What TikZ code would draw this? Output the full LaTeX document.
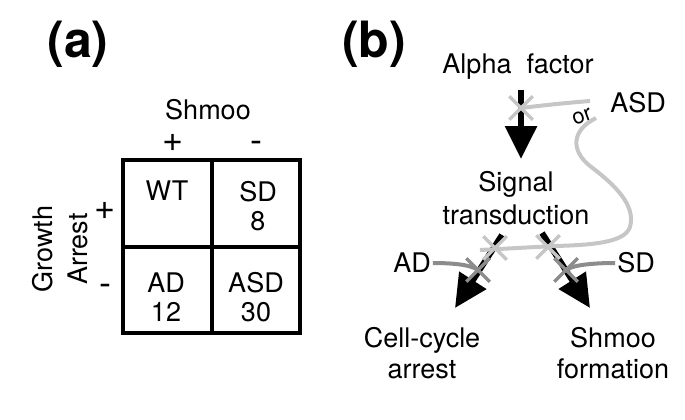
\documentclass[tikz,border=0pt]{standalone}
\usepackage{fontspec}
\setmainfont{TeX Gyre Heros}
\usetikzlibrary{arrows.meta,shapes.misc}
\definecolor{asdgray}{RGB}{198,198,198}
\definecolor{mutgray}{RGB}{140,140,140}

\begin{document}
\begin{tikzpicture}[x=1pt, y=-1pt,
  lbl/.style={font=\fontsize{27}{29}\selectfont, align=center, inner sep=2pt},
  sign/.style={font=\fontsize{36}{38}\selectfont, inner sep=1pt},
  panel/.style={font=\fontsize{50}{52}\selectfont\bfseries, inner sep=0pt},
  arr/.style={line width=6pt, -{Triangle[length=33pt, width=31pt]}},
  grid/.style={line width=3.5pt},
  asdline/.style={line width=4pt, asdgray},
  mutline/.style={line width=4pt, mutgray},
  cut/.style={cross out, line width=3.5pt, minimum size=20pt, inner sep=0pt}
]
\useasboundingbox (0,0) rectangle (685,420);

% (a) phenotype table
\node[panel] (pa) at (78,44) {(a)};
\node[lbl] (shmoo) at (208,110) {Shmoo};
\node[sign] (splus) at (173,143) {+};
\node[sign] (sminus) at (256,146.5) {-};
\node[lbl, rotate=90, font=\fontsize{27}{35}\selectfont] (growth) at (60,249) {Growth\\Arrest};
\node[sign] (gplus) at (105,211) {+};
\node[sign] (gminus) at (105,289.5) {-};
\draw[grid] (123,160) rectangle (300,333) (212,160) -- (212,333) (123,247) -- (300,247);
\node[lbl] (wt) at (167,191) {WT};
\node[lbl] (sd) at (258,206) {SD\\8};
\node[lbl] (ad) at (166,297) {AD\\12};
\node[lbl] (asd) at (256,297) {ASD\\30};

% (b) pathway
\node[panel] (pb) at (374,44) {(b)};
\node[lbl] (alpha) at (518,67) {Alpha~~factor};
\node[lbl, font=\fontsize{27}{33}\selectfont] (signal) at (516,198) {Signal\\transduction};
\node[lbl, font=\fontsize{27}{31}\selectfont] (cellcyc) at (422,353) {Cell-cycle\\arrest};
\node[lbl, font=\fontsize{27}{31}\selectfont] (shmform) at (613,353) {Shmoo\\formation};
\node[lbl] (asdlbl) at (638,103) {ASD};
\node[lbl] (adlbl) at (412,263) {AD};
\node[lbl] (sdlbl) at (636,263) {SD};
\node[inner sep=0pt, rotate=20, font=\fontsize{22}{24}\selectfont] (or) at (582,117) {or};

\coordinate (x0) at (521,108);
\coordinate (x1) at (495,248);
\coordinate (x2) at (548,247);
\coordinate (x3) at (478,270);
\coordinate (x4) at (566,270);
\coordinate (adst) at ([shift={(-14,37)}]signal.center);
\coordinate (adtip) at ([shift={(-47,73)}]adst);
\coordinate (sdst) at ([shift={(26,35)}]signal.center);
\coordinate (sdtip) at ([shift={(48,75)}]sdst);
\coordinate (or1) at ([shift={(8,-16)}]or.center);
\coordinate (or2) at ([shift={(14,1)}]or.center);
\coordinate (hz) at (480,250);

\draw[arr, shorten <=8pt, shorten >=10pt] (alpha.south -| x0) -- (signal.north -| x0);
\draw[arr] (adst) -- (adtip);
\draw[arr] (sdst) -- (sdtip);

\draw[asdline] (x0) .. controls +(25,-3) and +(-25,2) .. (or1);
\draw[asdline] (or2) .. controls (572,130) and (570,150) .. (590,166)
  .. controls (615,185) and (636,205) .. (630,227)
  .. controls (625,242) and (595,245) .. (555,246) -- (hz);
\draw[mutline] (adlbl.east) .. controls +(15,0) and +(-8,-6) .. (x3);
\draw[mutline] (sdlbl.west) .. controls +(-15,0) and +(8,-6) .. (x4);

\node[cut, draw=asdgray] (m0) at (x0) {};
\node[cut, draw=asdgray] (m1) at (x1) {};
\node[cut, draw=asdgray] (m2) at (x2) {};
\node[cut, draw=mutgray] (m3) at (x3) {};
\node[cut, draw=mutgray] (m4) at (x4) {};
\end{tikzpicture}
\end{document}
